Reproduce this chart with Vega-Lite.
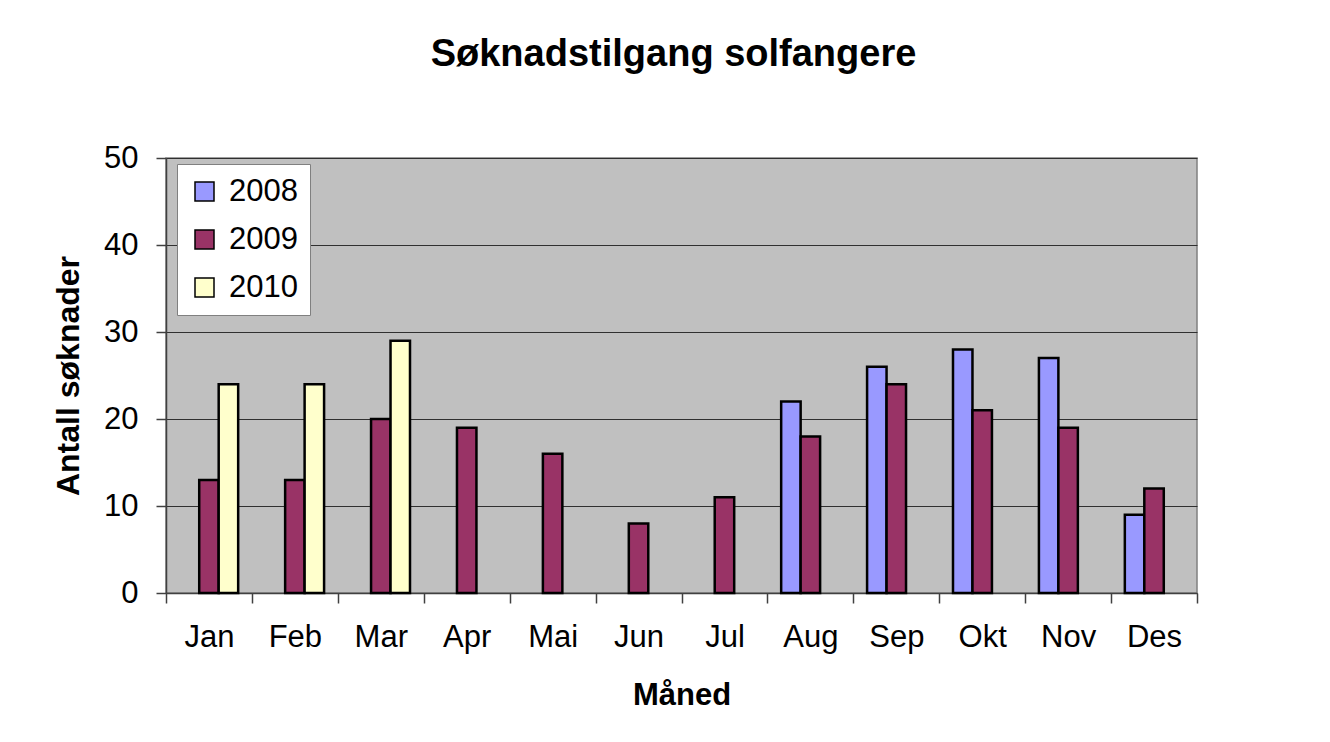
{
  "$schema": "https://vega.github.io/schema/vega-lite/v6.json",
  "width": 1031,
  "height": 435,
  "autosize": "none",
  "padding": {"left": 166, "top": 158, "right": 133, "bottom": 149},
  "background": "white",
  "title": {
    "text": "Søknadstilgang solfangere",
    "font": "Liberation Sans",
    "fontSize": 38,
    "fontWeight": "bold",
    "color": "black",
    "anchor": "middle",
    "frame": "group",
    "baseline": "alphabetic",
    "offset": 38,
    "dx": -8
  },
  "config": {
    "view": {"fill": "#C0C0C0", "stroke": "#808080", "strokeWidth": 1.5},
    "font": "Liberation Sans"
  },
  "data": {
    "values": [
      {"month": "Jan", "year": "2009", "value": 13},
      {"month": "Jan", "year": "2010", "value": 24},
      {"month": "Feb", "year": "2009", "value": 13},
      {"month": "Feb", "year": "2010", "value": 24},
      {"month": "Mar", "year": "2009", "value": 20},
      {"month": "Mar", "year": "2010", "value": 29},
      {"month": "Apr", "year": "2009", "value": 19},
      {"month": "Mai", "year": "2009", "value": 16},
      {"month": "Jun", "year": "2009", "value": 8},
      {"month": "Jul", "year": "2009", "value": 11},
      {"month": "Aug", "year": "2008", "value": 22},
      {"month": "Aug", "year": "2009", "value": 18},
      {"month": "Sep", "year": "2008", "value": 26},
      {"month": "Sep", "year": "2009", "value": 24},
      {"month": "Okt", "year": "2008", "value": 28},
      {"month": "Okt", "year": "2009", "value": 21},
      {"month": "Nov", "year": "2008", "value": 27},
      {"month": "Nov", "year": "2009", "value": 19},
      {"month": "Des", "year": "2008", "value": 9},
      {"month": "Des", "year": "2009", "value": 12}
    ]
  },
  "mark": {"type": "bar", "stroke": "black", "strokeWidth": 2.5},
  "encoding": {
    "x": {
      "field": "month",
      "type": "nominal",
      "sort": ["Jan", "Feb", "Mar", "Apr", "Mai", "Jun", "Jul", "Aug", "Sep", "Okt", "Nov", "Des"],
      "scale": {"paddingInner": 0, "paddingOuter": 0},
      "axis": {
        "title": "Måned",
        "titleFont": "Liberation Sans",
        "titleFontSize": 31,
        "titleFontWeight": "bold",
        "titleColor": "black",
        "titleBaseline": "alphabetic",
        "titleY": 111,
        "labelAngle": 0,
        "labelFont": "Liberation Sans",
        "labelFontSize": 31,
        "labelColor": "black",
        "labelPadding": 19,
        "tickBand": "extent",
        "tickSize": 10,
        "tickColor": "#404040",
        "tickWidth": 1.5,
        "domainColor": "#404040",
        "domainWidth": 1.5,
        "grid": false
      }
    },
    "xOffset": {
      "field": "year",
      "type": "nominal",
      "scale": {"domain": ["2008", "2009", "2010"], "paddingInner": 0, "paddingOuter": 0.706}
    },
    "y": {
      "field": "value",
      "type": "quantitative",
      "scale": {"domain": [0, 50], "nice": false},
      "axis": {
        "title": "Antall søknader",
        "titleFont": "Liberation Sans",
        "titleFontSize": 32,
        "titleFontWeight": "bold",
        "titleColor": "black",
        "titleBaseline": "alphabetic",
        "titleX": -88,
        "values": [0, 10, 20, 30, 40, 50],
        "labelFont": "Liberation Sans",
        "labelFontSize": 31,
        "labelColor": "black",
        "labelPadding": 18,
        "tickSize": 10,
        "tickColor": "#404040",
        "tickWidth": 1.5,
        "domainColor": "#404040",
        "domainWidth": 1.5,
        "grid": true,
        "gridColor": "#303030",
        "gridWidth": 1.2
      }
    },
    "color": {
      "field": "year",
      "type": "nominal",
      "scale": {"domain": ["2008", "2009", "2010"], "range": ["#9999FF", "#993366", "#FFFFCC"]},
      "legend": {
        "title": null,
        "orient": "none",
        "legendX": 11,
        "legendY": 6,
        "fillColor": "white",
        "strokeColor": "#808080",
        "padding": 12,
        "rowPadding": 16,
        "symbolType": "square",
        "symbolSize": 361,
        "symbolStrokeColor": "black",
        "symbolStrokeWidth": 1.5,
        "labelFont": "Liberation Sans",
        "labelFontSize": 31,
        "labelColor": "black",
        "labelOffset": 9
      }
    }
  }
}
